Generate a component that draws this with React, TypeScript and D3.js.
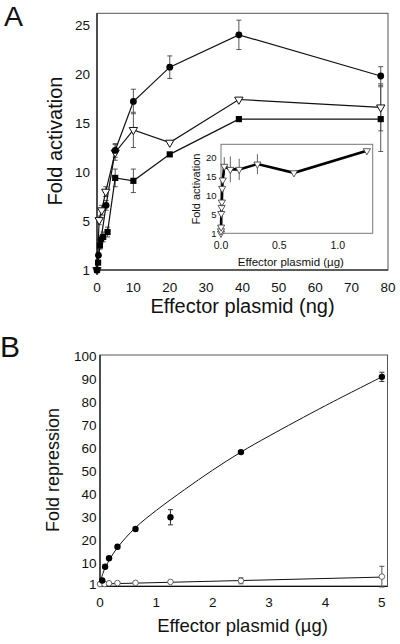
import React from "react";
import * as d3 from "d3";

// ---------- Panel A (main) ----------
const aXTicks = [0, 10, 20, 30, 40, 50, 60, 70, 80];
const aYTicks = [1, 5, 10, 15, 20, 25];

const circX = [0, 0.4, 1.1, 2.5, 5, 10, 20, 39, 78];
const circY = [1, 2.2, 3.5, 6.6, 12.2, 17.2, 20.7, 24.0, 19.8];
const circE = [0, 0, 0.3, 0.5, 0.7, 1.25, 1.15, 1.5, 0.95];

const triX = [0, 0.6, 1.3, 2.4, 5, 10, 20, 39, 78];
const triY = [1, 5.1, 6.1, 8.0, 12.0, 14.3, 13.0, 17.4, 16.6];
const triE = [0, 0.4, 0.5, 0.5, 0.8, 1.8, 0, 0, 2.4];

const sqX = [0, 0.3, 0.8, 1.7, 2.9, 5, 10, 20, 39, 78];
const sqY = [1, 1.6, 3.0, 3.7, 4.1, 9.4, 9.1, 11.8, 15.4, 15.4];
const sqE = [0, 0, 0.3, 0.4, 0.4, 0.9, 1.2, 0, 0, 3.3];

// ---------- Panel A inset ----------
const inXTicks = [0, 0.5, 1.0];
const inYTicks = [1, 5, 10, 15, 20];
const inX = [0, 0.0005, 0.001, 0.0025, 0.005, 0.0075, 0.01, 0.015, 0.028, 0.08, 0.156, 0.312, 0.625, 1.25];
const inY = [1, 1.5, 2.3, 5.2, 6.8, 8.2, 11.8, 14.0, 17.6, 16.8, 16.8, 18.2, 15.9, 21.7];
const inE = [0, 0, 0, 0, 0, 0, 0, 0, 2.4, 3.4, 2.8, 2.6, 0, 0];

// ---------- Panel B ----------
const bXTicks = [0, 1, 2, 3, 4, 5];
const bYTicks = [1, 10, 20, 30, 40, 50, 60, 70, 80, 90, 100];
const bFillX = [0.04, 0.09, 0.16, 0.31, 0.63, 1.25, 2.5, 5];
const bFillY = [2.5, 8.5, 12.2, 17.2, 24.9, 30.0, 58.3, 91.0];
const bFillE = [0, 0, 0, 0, 0, 3.3, 0, 2.0];
const bOpenX = [0, 0.08, 0.16, 0.31, 0.63, 1.25, 2.5, 5];
const bOpenY = [1, 1.0, 1.3, 1.4, 1.5, 1.9, 2.4, 4.2];
const bOpenE = [0, 0, 0, 0, 0, 0.6, 1.3, 4.5];
const bFitX = [0, 0.05, 0.1, 0.3, 0.63, 1, 1.5, 2, 2.5, 3, 4, 5];
const bFitY = [1.5, 5.5, 8.5, 16.5, 25.5, 33, 42, 50.5, 58.3, 65.3, 78.5, 91];
const bLinX = [0, 5];
const bLinY = [1, 4];

const FONT = "'Liberation Sans', Arial, Helvetica, sans-serif";

const zip = (xs: number[], ys: number[]) => xs.map((x, i) => [x, ys[i]] as [number, number]);

export default function App() {
  // Panel A scales
  const ax = d3.scaleLinear().domain([0, 80]).range([97, 388]);
  const ay = d3.scaleLinear().domain([1, 5, 26.2]).range([270, 221, 13.3]);
  // Inset scales
  const ix = d3.scaleLinear().domain([0, 1.3]).range([221, 372.7]);
  const iy = d3.scaleLinear().domain([1, 5, 23.4]).range([233.3, 214.3, 144.3]);
  // Panel B scales
  const bx = d3.scaleLinear().domain([0, 5.1]).range([100, 387.5]);
  const by = d3.scaleLinear().domain([0, 100.5]).range([586.3, 355]);

  const lineA = d3.line<[number, number]>().x((d) => ax(d[0])).y((d) => ay(d[1]));
  const lineI = d3.line<[number, number]>().x((d) => ix(d[0])).y((d) => iy(d[1]));
  const lineB = d3.line<[number, number]>().x((d) => bx(d[0])).y((d) => by(d[1]));
  const fitB = d3
    .line<[number, number]>()
    .x((d) => bx(d[0]))
    .y((d) => by(d[1]))
    .curve(d3.curveCatmullRom.alpha(0.5));

  const triPath = d3.symbol().type(d3.symbolTriangle).size(30)() as string;
  const triPathSmall = d3.symbol().type(d3.symbolTriangle).size(22)() as string;
  const sqPath = d3.symbol().type(d3.symbolSquare).size(38)() as string;

  const errBars = (
    xs: number[],
    ys: number[],
    es: number[],
    sx: (v: number) => number,
    sy: (v: number) => number,
    key: string,
    cap = 2.5,
    color = "#555"
  ) =>
    xs.map((x, i) => {
      if (!es[i]) return null;
      const cx = sx(x);
      const y1 = sy(ys[i] + es[i]);
      const y2 = sy(ys[i] - es[i]);
      return (
        <g key={key + i} stroke={color} strokeWidth={1}>
          <line x1={cx} x2={cx} y1={y1} y2={y2} />
          {cap > 0 && <line x1={cx - cap} x2={cx + cap} y1={y1} y2={y1} />}
          {cap > 0 && <line x1={cx - cap} x2={cx + cap} y1={y2} y2={y2} />}
        </g>
      );
    });

  return (
    <svg
      width={400}
      height={644}
      style={{ position: "absolute", left: 0, top: 0, background: "#fff" }}
      fontFamily={FONT}
    >
      <rect x={0} y={0} width={400} height={644} fill="#fff" />

      {/* ================= PANEL A ================= */}
      <text x={4} y={26} fontSize={28.5} fill="#111">A</text>

      {/* frame */}
      <rect x={ax(0)} y={ay(26.2)} width={ax(80) - ax(0)} height={ay(1) - ay(26.2)} fill="none" stroke="#555" strokeWidth={1} />
      <line x1={ax(0)} x2={ax(0)} y1={ay(26.2)} y2={ay(1)} stroke="#111" strokeWidth={1.2} />
      <line x1={ax(0)} x2={ax(80)} y1={ay(1)} y2={ay(1)} stroke="#111" strokeWidth={1.2} />

      {/* ticks labels */}
      {aYTicks.map((t) => (
        <text key={"ay" + t} x={90} y={ay(t)} dy="0.36em" textAnchor="end" fontSize={13.5} fill="#111">
          {t}
        </text>
      ))}
      {aXTicks.map((t) => (
        <text key={"ax" + t} x={ax(t)} y={291.5} textAnchor="middle" fontSize={13.5} fill="#111">
          {t}
        </text>
      ))}
      <text x={242.5} y={313} textAnchor="middle" fontSize={20} fill="#111">
        Effector plasmid (ng)
      </text>
      <text transform="translate(61.5,141) rotate(-90)" textAnchor="middle" fontSize={20} fill="#111">
        Fold activation
      </text>

      {/* inset */}
      <rect x={ix(0)} y={iy(23.4)} width={ix(1.3) - ix(0)} height={iy(1) - iy(23.4)} fill="#fff" stroke="#777" strokeWidth={1} />
      {inYTicks.map((t) => (
        <text key={"iy" + t} x={216.5} y={iy(t)} dy="0.36em" textAnchor="end" fontSize={9.5} fill="#111">
          {t}
        </text>
      ))}
      {inXTicks.map((t) => (
        <text key={"ix" + t} x={ix(t)} y={248.5} textAnchor="middle" fontSize={10.5} fill="#111">
          {t.toFixed(1)}
        </text>
      ))}
      <text x={ix(0.65) - 6} y={265.5} textAnchor="middle" fontSize={11.5} fill="#111">
        Effector plasmid (µg)
      </text>
      <text transform="translate(199.5,189) rotate(-90)" textAnchor="middle" fontSize={11} fill="#111">
        Fold activation
      </text>
      {errBars(inX, inY, inE, ix, iy, "ie", 0, "#666")}
      <path d={lineI(zip(inX, inY)) || ""} fill="none" stroke="#000" strokeWidth={2.6} />
      {inX.map((x, i) => (
        <path
          key={"it" + i}
          d={triPathSmall}
          transform={`translate(${ix(x)},${iy(inY[i])}) rotate(180)`}
          fill="#fff"
          stroke="#333"
          strokeWidth={0.8}
        />
      ))}

      {/* main series: error bars */}
      {errBars(circX, circY, circE, ax, ay, "ce")}
      {errBars(triX, triY, triE, ax, ay, "te")}
      {errBars(sqX, sqY, sqE, ax, ay, "se")}

      {/* lines */}
      <path d={lineA(zip(sqX, sqY)) || ""} fill="none" stroke="#111" strokeWidth={1.2} />
      <path d={lineA(zip(triX, triY)) || ""} fill="none" stroke="#111" strokeWidth={1.2} />
      <path d={lineA(zip(circX, circY)) || ""} fill="none" stroke="#111" strokeWidth={1.2} />

      {/* markers */}
      {sqX.map((x, i) => (
        <path key={"sq" + i} d={sqPath} transform={`translate(${ax(x)},${ay(sqY[i])})`} fill="#000" />
      ))}
      {triX.map((x, i) => (
        <path
          key={"tr" + i}
          d={triPath}
          transform={`translate(${ax(x)},${ay(triY[i])}) rotate(180)`}
          fill="#fff"
          stroke="#111"
          strokeWidth={1}
        />
      ))}
      {circX.map((x, i) => (
        <circle key={"ci" + i} cx={ax(x)} cy={ay(circY[i])} r={3.4} fill="#000" />
      ))}

      {/* ================= PANEL B ================= */}
      <text x={0} y={356.5} fontSize={30} fill="#111">B</text>

      <rect x={bx(0)} y={by(100.5)} width={bx(5.1) - bx(0)} height={by(0) - by(100.5)} fill="none" stroke="#555" strokeWidth={1} />
      <line x1={bx(0)} x2={bx(0)} y1={by(100.5)} y2={by(0)} stroke="#111" strokeWidth={1.2} />
      <line x1={bx(0)} x2={bx(5.1)} y1={by(0)} y2={by(0)} stroke="#111" strokeWidth={1.2} />

      {bYTicks.map((t) => (
        <text key={"by" + t} x={96.5} y={by(t)} dy="0.36em" textAnchor="end" fontSize={13.5} fill="#111">
          {t}
        </text>
      ))}
      {bXTicks.map((t) => (
        <text key={"bx" + t} x={bx(t)} y={606.5} textAnchor="middle" fontSize={13.5} fill="#111">
          {t}
        </text>
      ))}
      <text x={242.5} y={631.5} textAnchor="middle" fontSize={18.5} fill="#111">
        Effector plasmid (µg)
      </text>
      <text transform="translate(58.5,470) rotate(-90)" textAnchor="middle" fontSize={18} fill="#111">
        Fold repression
      </text>

      {errBars(bFillX, bFillY, bFillE, bx, by, "bfe", 2.5, "#333")}
      {errBars(bOpenX, bOpenY, bOpenE, bx, by, "boe", 2.5, "#555")}
      <path d={fitB(zip(bFitX, bFitY)) || ""} fill="none" stroke="#111" strokeWidth={1} />
      <path d={lineB(zip(bLinX, bLinY)) || ""} fill="none" stroke="#111" strokeWidth={1} />
      {bOpenX.map((x, i) => (
        <circle key={"bo" + i} cx={bx(x)} cy={by(bOpenY[i])} r={2.8} fill="#fff" stroke="#555" strokeWidth={0.9} />
      ))}
      {bFillX.map((x, i) => (
        <circle key={"bf" + i} cx={bx(x)} cy={by(bFillY[i])} r={3.2} fill="#000" />
      ))}
    </svg>
  );
}
